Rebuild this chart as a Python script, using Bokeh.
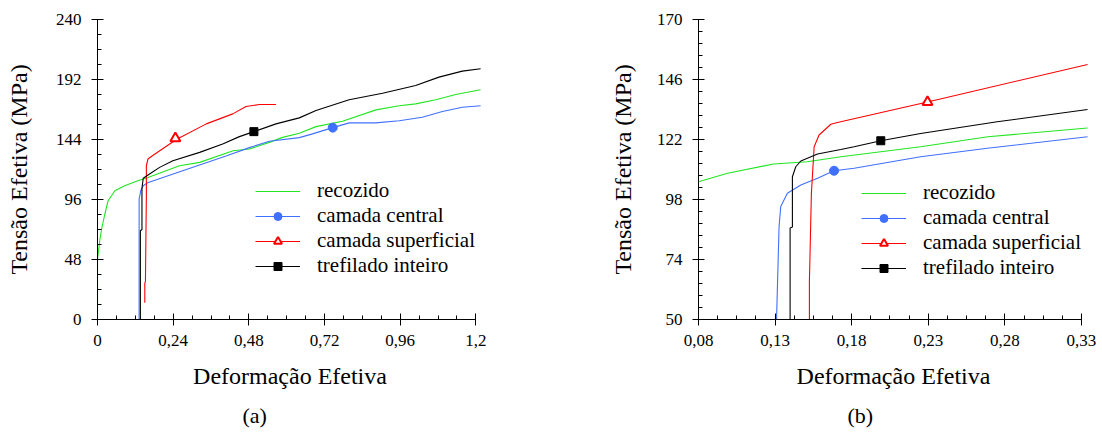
from bokeh.plotting import figure
from bokeh.models import FixedTicker, Legend, LegendItem, Title, Range1d
from bokeh.layouts import row
from bokeh.embed import file_html
from bokeh.resources import INLINE

# ---------------- data: panel (a) ----------------
a_rec_x = [0, 0, 0.007, 0.0127, 0.023, 0.0335, 0.055, 0.086, 0.128, 0.16, 0.26, 0.324, 0.43,
           0.482, 0.545, 0.587, 0.64, 0.693, 0.777, 0.883, 0.957, 1.009, 1.073, 1.136, 1.215]
a_rec_y = [0, 48, 63, 72, 84, 95, 103, 107, 111, 113.6, 123, 125.7, 135,
           136.4, 141.7, 145.7, 149, 154.3, 158.6, 167.7, 171, 172.5, 175.8, 180, 183.8]

a_cen_x = [0.132, 0.132, 0.135, 0.137, 0.145, 0.159, 0.27, 0.41, 0.484, 0.545, 0.64, 0.682,
           0.746, 0.798, 0.882, 0.957, 1.03, 1.094, 1.157, 1.215]
a_cen_y = [0, 96.5, 100, 103, 107, 109.4, 119, 131, 137.7, 142.6, 145.5, 148.5,
           153.5, 157.3, 157.3, 159, 161.8, 166.4, 169.8, 171]

a_sup_x = [0.150, 0.150, 0.152, 0.155, 0.155, 0.160, 0.174, 0.25, 0.345, 0.429, 0.471, 0.514, 0.566]
a_sup_y = [13.4, 29.4, 30, 100, 123, 128.4, 131, 144, 156.5, 164.5, 170.4, 172, 172]

a_tre_x = [0.136, 0.136, 0.141, 0.141, 0.145, 0.165, 0.197, 0.239, 0.324, 0.397, 0.45, 0.496,
           0.566, 0.64, 0.693, 0.798, 0.904, 1.009, 1.083, 1.157, 1.215]
a_tre_y = [0, 71, 72, 105, 113, 116.4, 121.7, 127, 133.7, 140.4, 146.3, 150.3,
           156.5, 161.3, 167.2, 175.8, 181, 187.2, 193.9, 198.7, 200.6]

a_mark_cen = (0.746, 153.5)
a_mark_sup = (0.247, 145.0)
a_mark_tre = (0.496, 150.3)

a_xticks = [0, 0.24, 0.48, 0.72, 0.96, 1.2]
a_xlabels = ["0", "0,24", "0,48", "0,72", "0,96", "1,2"]
a_yticks = [0, 48, 96, 144, 192, 240]

# ---------------- data: panel (b) ----------------
b_rec_x = [0.08, 0.099, 0.129, 0.151, 0.173, 0.225, 0.269, 0.334]
b_rec_y = [105.1, 108.5, 112.2, 113.1, 115.1, 119.1, 123.1, 126.6]

b_cen_x = [0.1305, 0.1326, 0.1337, 0.138, 0.1468, 0.1577, 0.1685, 0.1816, 0.225, 0.2686, 0.334]
b_cen_y = [40, 87.2, 95.2, 100.5, 103.8, 106.5, 109.5, 110.5, 115.1, 118.5, 123.1]

b_sup_x = [0.1524, 0.1524, 0.1537, 0.1555, 0.1587, 0.1664, 0.1707, 0.2295, 0.334]
b_sup_y = [40, 65.3, 100.5, 119.1, 123.8, 128.1, 128.8, 137, 152]

b_tre_x = [0.1398, 0.1398, 0.1413, 0.1413, 0.1435, 0.1468, 0.1577, 0.1729, 0.1816, 0.199, 0.225, 0.275, 0.334]
b_tre_y = [40, 86.6, 87, 107.1, 111.1, 113.4, 116.2, 118, 119.1, 121.5, 124.4, 129.1, 134]

b_mark_cen = (0.1685, 109.5)
b_mark_sup = (0.2295, 137.0)
b_mark_tre = (0.199, 121.5)

b_xticks = [0.08, 0.13, 0.18, 0.23, 0.28, 0.33]
b_xlabels = ["0,08", "0,13", "0,18", "0,23", "0,28", "0,33"]
b_yticks = [50, 74, 98, 122, 146, 170]

labels = ["recozido", "camada central", "camada superficial", "trefilado inteiro"]

FONT = "Liberation Serif"
GREEN = "#22e622"
BLUE = "#4070ff"
RED = "#ff0000"
BLACK = "#000000"


def make_panel(width, border_left, border_right, xr, yr, xbounds,
               xticks, xlabels, xminor, yticks, yminor, series, marks,
               tag, tag_offset, legend_loc, ylab_standoff):
    p = figure(width=width, height=436, x_range=Range1d(*xr), y_range=Range1d(*yr),
               output_backend="svg", toolbar_location=None,
               min_border_left=border_left, min_border_right=border_right,
               min_border_top=19, min_border_bottom=117)
    p.outline_line_color = None
    p.xgrid.visible = False
    p.ygrid.visible = False
    p.background_fill_color = "white"
    p.border_fill_color = "white"

    for ax in (p.xaxis[0], p.yaxis[0]):
        ax.axis_line_color = "black"
        ax.major_tick_line_color = "black"
        ax.minor_tick_line_color = "black"
        ax.major_tick_in = 6
        ax.major_tick_out = 6
        ax.minor_tick_in = 4
        ax.minor_tick_out = 0
        ax.major_label_text_font = FONT
        ax.major_label_text_font_size = "17px"
        ax.major_label_text_color = "black"
        ax.axis_label_text_font = FONT
        ax.axis_label_text_font_size = "24px"
        ax.axis_label_text_font_style = "normal"
        ax.axis_label_text_color = "black"

    p.xaxis[0].ticker = FixedTicker(ticks=xticks, minor_ticks=xminor)
    p.xaxis[0].major_label_overrides = {t: l for t, l in zip(xticks, xlabels)}
    p.xaxis[0].bounds = xbounds
    p.xaxis[0].axis_label = "Deformação Efetiva"
    p.xaxis[0].major_label_standoff = 9
    p.xaxis[0].axis_label_standoff = 14

    p.yaxis[0].ticker = FixedTicker(ticks=yticks, minor_ticks=yminor)
    p.yaxis[0].major_label_overrides = {t: str(t) for t in yticks}
    p.yaxis[0].axis_label = "Tensão Efetiva (MPa)"
    p.yaxis[0].major_label_standoff = 10
    p.yaxis[0].axis_label_standoff = ylab_standoff

    colors = [GREEN, BLUE, RED, BLACK]
    items = []
    for i, ((sx, sy), col) in enumerate(zip(series, colors)):
        lr = p.line(sx, sy, line_color=col, line_width=1.1)
        rs = [lr]
        if i == 1:
            mx, my = marks[0]
            rs.append(p.scatter([mx], [my], marker="circle", size=9,
                                fill_color=col, line_color=col))
        elif i == 2:
            mx, my = marks[1]
            rs.append(p.scatter([mx], [my], marker="triangle", size=10,
                                fill_color="white", line_color=col, line_width=2))
        elif i == 3:
            mx, my = marks[2]
            rs.append(p.scatter([mx], [my], marker="square", size=8,
                                fill_color=col, line_color=col))
        items.append(LegendItem(label=labels[i], renderers=rs))

    leg = Legend(items=items, location=legend_loc, glyph_width=45, glyph_height=20,
                 label_height=20, spacing=0, label_standoff=17, padding=0, margin=0,
                 border_line_color=None, background_fill_alpha=0,
                 label_text_font=FONT, label_text_font_size="21px",
                 label_text_color="black")
    p.add_layout(leg, "center")

    t = Title(text=tag, align="left", offset=tag_offset, text_font=FONT,
              text_font_size="22px", text_font_style="normal", text_color="black",
              standoff=18)
    p.add_layout(t, "below")
    return p


pa = make_panel(
    width=540, border_left=97, border_right=58,
    xr=(0, 1.221), yr=(0, 240), xbounds=(0, 1.2),
    xticks=a_xticks, xlabels=a_xlabels, xminor=[i * 0.06 for i in range(21)],
    yticks=a_yticks, yminor=[i * 12 for i in range(21)],
    series=[(a_rec_x, a_rec_y), (a_cen_x, a_cen_y), (a_sup_x, a_sup_y), (a_tre_x, a_tre_y)],
    marks=[a_mark_cen, a_mark_sup, a_mark_tre],
    tag="(a)", tag_offset=145, legend_loc=(158, 41), ylab_standoff=21)

pb = make_panel(
    width=560, border_left=158, border_right=12,
    xr=(0.08, 0.3346), yr=(50, 170), xbounds=(0.08, 0.33),
    xticks=b_xticks, xlabels=b_xlabels, xminor=[0.08 + i * 0.0125 for i in range(21)],
    yticks=b_yticks, yminor=[50 + i * 4.8 for i in range(26)],
    series=[(b_rec_x, b_rec_y), (b_cen_x, b_cen_y), (b_sup_x, b_sup_y), (b_tre_x, b_tre_y)],
    marks=[b_mark_cen, b_mark_sup, b_mark_tre],
    tag="(b)", tag_offset=149, legend_loc=(163, 39), ylab_standoff=18)

layout = row(pa, pb, spacing=0)
open("out.html", "w").write(file_html(layout, INLINE))
